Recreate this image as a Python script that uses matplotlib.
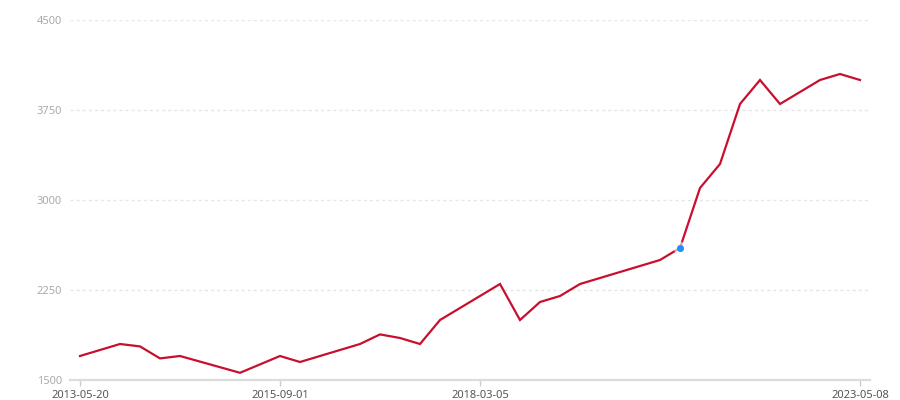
import matplotlib
matplotlib.use("Agg")
import matplotlib.pyplot as plt

# category index (40 dated categories, 0..39) of each line vertex, and value
x_idx = [0, 2, 3, 4, 5, 8, 10, 11, 14, 15, 16, 17, 18, 21, 22, 23, 24, 25,
         29, 30, 31, 32, 33, 34, 35, 37, 38, 39]
values = [1700, 1800, 1780, 1680, 1700, 1560, 1700, 1650, 1800, 1880, 1850,
          1800, 2000, 2300, 2000, 2150, 2200, 2300, 2500, 2600, 3100, 3300,
          3800, 4000, 3800, 4000, 4050, 4000]
n_categories = 40
tick_idx = [0, 10, 20, 39]
tick_labels = ["2013-05-20", "2015-09-01", "2018-03-05", "2023-05-08"]
y_ticks = [1500, 2250, 3000, 3750, 4500]
highlight_idx = 30
highlight_val = 2600

plt.rcParams['font.family'] = ['Noto Sans', 'DejaVu Sans']

fig = plt.figure(figsize=(9, 4), dpi=100)
ax = fig.add_axes([70/900, 20/400, 800/900, 360/400])

ax.plot(x_idx, values, color='#c8102e', lw=1.6, solid_joinstyle='miter', zorder=3)
ax.scatter([highlight_idx], [highlight_val], s=90, color='white', alpha=0.6, zorder=4, linewidths=0)
ax.scatter([highlight_idx], [highlight_val], s=26, color='#1e90ff', zorder=5, linewidths=0)

ax.set_xlim(-0.5, n_categories - 0.5)
ax.set_ylim(y_ticks[0], y_ticks[-1])
ax.set_yticks(y_ticks)
ax.set_yticklabels([str(v) for v in y_ticks])
ax.set_xticks(tick_idx)
ax.set_xticklabels(tick_labels)

ax.grid(axis='y', color='#e6e6e6', lw=1, ls=(0, (2.2, 2.2)), zorder=1)
ax.grid(axis='x', visible=False)
ax.set_axisbelow(True)

for s in ['top', 'right', 'left']:
    ax.spines[s].set_visible(False)
ax.spines['bottom'].set_color('#dcdcdc')
ax.spines['bottom'].set_linewidth(1.6)

ax.tick_params(axis='y', length=0, pad=6, labelsize=8, labelcolor='#aaaaaa')
ax.tick_params(axis='x', length=4, width=1, color='#cccccc', pad=3, labelsize=8, labelcolor='#555555')

fig.savefig('out.png', dpi=100)
